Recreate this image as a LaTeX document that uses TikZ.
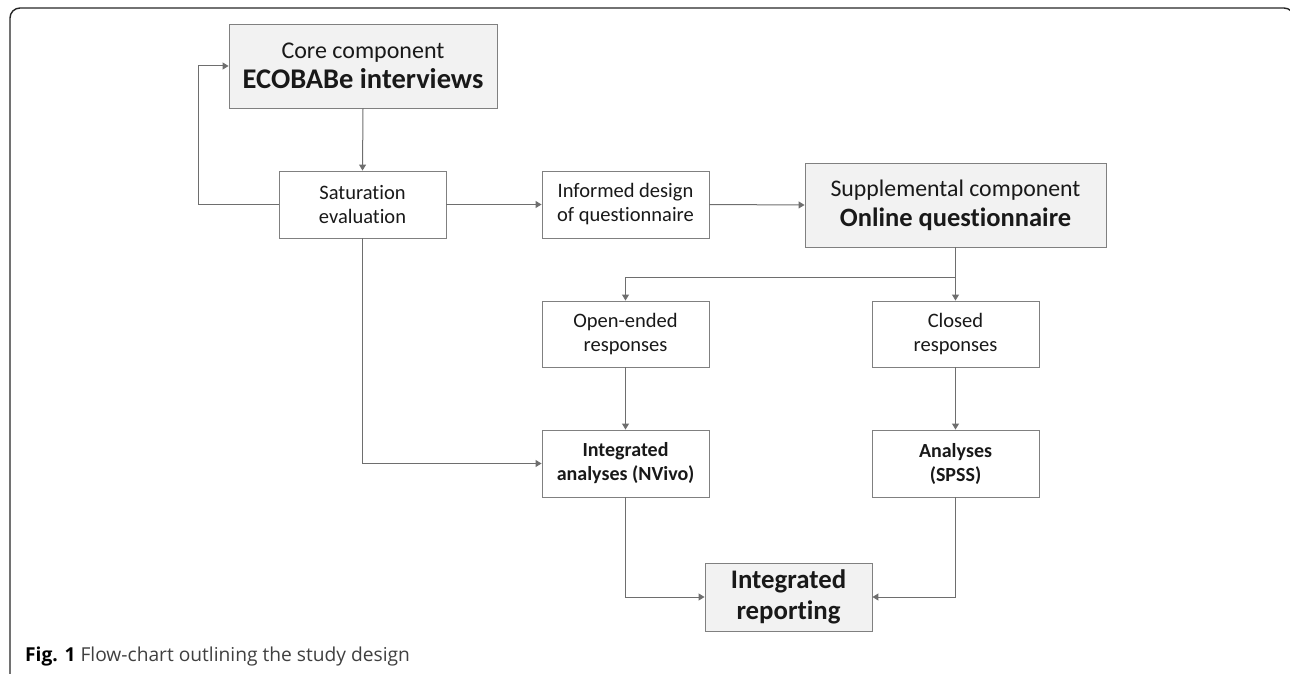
\documentclass[tikz,border=0pt]{standalone}
\usepackage{fontspec}
\setmainfont{Carlito}[Ligatures=NoCommon]
\newfontfamily\capfont{Open Sans}
\usetikzlibrary{arrows.meta}
\definecolor{boxgray}{HTML}{F2F2F2}
\definecolor{edgegray}{HTML}{808080}
\definecolor{linegray}{HTML}{6E6E6E}
\begin{document}
\begin{tikzpicture}[x=1pt,y=-1pt,
  box/.style={draw=edgegray, line width=0.9pt, fill=white, minimum width=167pt, minimum height=67pt, align=center, inner sep=0pt, text=black!90, font=\fontsize{20.5}{24}\selectfont},
  gbox/.style={box, fill=boxgray},
  conn/.style={draw=linegray, line width=1pt, -{Triangle[length=6pt,width=7pt]}},
  plain/.style={draw=linegray, line width=1pt}
]
\useasboundingbox (0,0) rectangle (1290,674);
% frame
\draw[line width=1.4pt, black!85, rounded corners=10pt] (10,700) -- (10,8) -- (1294,8) -- (1294,40);

% nodes
\node[gbox, minimum width=268pt, minimum height=84pt, font=\fontsize{24}{30}\selectfont] (core) at (363,66)
  {Core component\\{\fontsize{28.5}{30}\selectfont\bfseries ECOBABe interviews}};
\node[box] (sat) at (362.5,204.5) {Saturation\\evaluation};
\node[box] (inf) at (625.5,204.5) {Informed design\\of questionnaire};
\node[gbox, minimum width=301pt, minimum height=84pt, font=\fontsize{23.8}{30}\selectfont] (sup) at (955.5,205)
  {Supplemental component\\{\fontsize{26.5}{30}\selectfont\bfseries Online questionnaire}};
\node[box, minimum height=66pt] (open) at (625.5,334) {Open-ended\\responses};
\node[box, minimum height=66pt] (closed) at (955.5,334) {Closed\\responses};
\node[box, font=\fontsize{20}{24}\selectfont\bfseries] (ia) at (625.5,463.5) {Integrated\\analyses (NVivo)};
\node[box, font=\fontsize{20}{24}\selectfont\bfseries] (an) at (955.5,463.5) {Analyses\\(SPSS)};
\node[gbox, minimum height=68pt, font=\fontsize{26.8}{31}\selectfont\bfseries] (rep) at (788.5,597) {Integrated\\reporting};

% connectors
\coordinate (loop) at (198,204.5);
\coordinate (br) at (955.5,277);
\draw[conn] (core.south) -- (sat.north);
\draw[conn] (sat.west) -- (loop) |- (core.west);
\draw[conn] (sat.east) -- (inf.west);
\draw[conn] (inf.east) -- (sup.west);
\draw[conn] (sup.south) -- (closed.north);
\draw[conn] (br) -| (open.north);
\draw[conn] (open.south) -- (ia.north);
\draw[conn] (closed.south) -- (an.north);
\draw[conn] (sat.south) |- (ia.west);
\draw[conn] (ia.south) |- (rep.west);
\draw[conn] (an.south) |- (rep.east);

% caption
\node[anchor=base west, inner sep=0pt, text=black!75, font=\capfont\fontsize{19.2}{22}\selectfont] (cap) at (25,661)
  {\textcolor{black}{\bfseries Fig. 1} Flow-chart outlining the study design};
\end{tikzpicture}
\end{document}
